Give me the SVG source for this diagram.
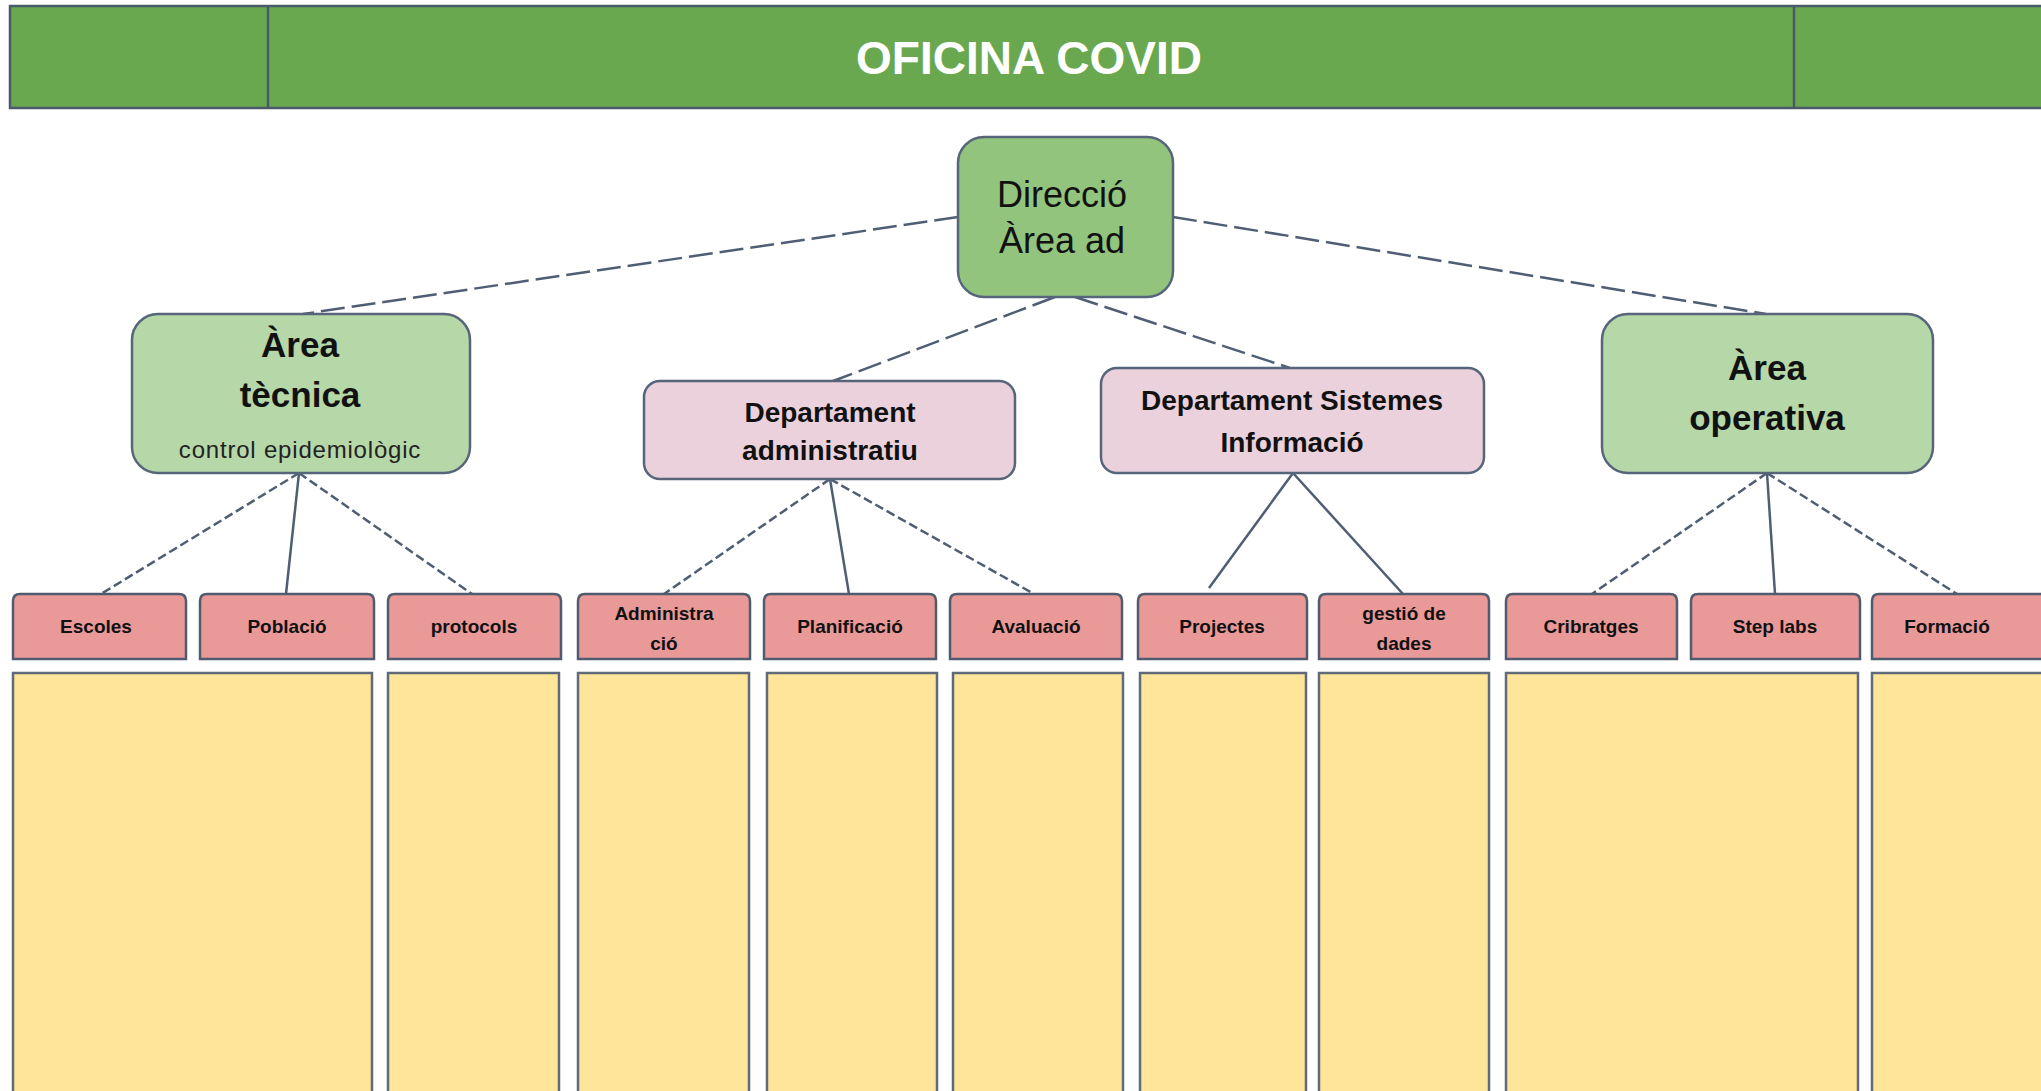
<svg xmlns="http://www.w3.org/2000/svg" width="2041" height="1091" viewBox="0 0 2041 1091">
<style>
.hdr{fill:#6AA84F;stroke:#4B5A6B;stroke-width:2.5}
.title{font-family:"Liberation Sans",Arial,sans-serif;font-weight:bold;font-size:46px;fill:#ffffff;text-anchor:middle}
.dir{fill:#93C47D;stroke:#56657A;stroke-width:2.5}
.area{fill:#B6D7A8;stroke:#56657A;stroke-width:2.5}
.dept{fill:#EAD1DC;stroke:#56657A;stroke-width:2.5}
.red{fill:#EA9999;stroke:#4F5B6E;stroke-width:2.5}
.yel{fill:#FFE599;stroke:#5F6B7A;stroke-width:2.5}
.t{font-family:"Liberation Sans",Arial,sans-serif;fill:#111;text-anchor:middle}
.big{font-size:35px;font-weight:bold}
.dirt{font-size:36px}
.sub{font-size:24px;fill:#222}
.dt{font-size:28px;font-weight:bold}
.rt{font-size:19px;font-weight:bold}
.c{stroke:#4F5E73;stroke-width:2.5;fill:none}
.d1{stroke-dasharray:24 7}
.d2{stroke-dasharray:9 4}
</style>

<g id="header">
<rect class="hdr" x="10" y="6" width="2040" height="102"/>
<line x1="268" y1="6" x2="268" y2="108" stroke="#4B5A6B" stroke-width="2.5"/>
<line x1="1794" y1="6" x2="1794" y2="108" stroke="#4B5A6B" stroke-width="2.5"/>
<text class="title" x="1029" y="74">OFICINA COVID</text>
</g>

<g id="connectors">
<line class="c d1" x1="958" y1="217" x2="303" y2="314"/>
<line class="c d1" x1="1173" y1="217" x2="1766" y2="314"/>
<line class="c d1" x1="1055" y1="297" x2="833" y2="381"/>
<line class="c d1" x1="1075" y1="297" x2="1290" y2="368"/>

<line class="c d2" x1="299" y1="473" x2="101" y2="594"/>
<line class="c" x1="299" y1="473" x2="286" y2="594"/>
<line class="c d2" x1="299" y1="473" x2="472" y2="594"/>

<line class="c d2" x1="830" y1="479" x2="664" y2="594"/>
<line class="c" x1="830" y1="479" x2="849" y2="594"/>
<line class="c d2" x1="830" y1="479" x2="1034" y2="594"/>

<line class="c" x1="1293" y1="473" x2="1209" y2="588"/>
<line class="c" x1="1293" y1="473" x2="1403" y2="594"/>

<line class="c d2" x1="1767" y1="473" x2="1592" y2="594"/>
<line class="c" x1="1767" y1="473" x2="1775" y2="594"/>
<line class="c d2" x1="1767" y1="473" x2="1957" y2="594"/>
</g>

<g id="direccio">
<rect class="dir" x="958" y="137" width="215" height="160" rx="26"/>
<text class="t dirt" x="1062" y="207">Direcció</text>
<text class="t dirt" x="1062" y="253">Àrea ad</text>
</g>

<g id="area-tecnica">
<rect class="area" x="132" y="314" width="338" height="159" rx="26"/>
<text class="t big" x="300" y="357">Àrea</text>
<text class="t big" x="300" y="407">tècnica</text>
<text class="t sub" x="300" y="458" letter-spacing="0.8">control epidemiològic</text>
</g>

<g id="dept-admin">
<rect class="dept" x="644" y="381" width="371" height="98" rx="16"/>
<text class="t dt" x="830" y="422">Departament</text>
<text class="t dt" x="830" y="460">administratiu</text>
</g>

<g id="dept-sistemes">
<rect class="dept" x="1101" y="368" width="383" height="105" rx="16"/>
<text class="t dt" x="1292" y="410">Departament Sistemes</text>
<text class="t dt" x="1292" y="452">Informació</text>
</g>

<g id="area-operativa">
<rect class="area" x="1602" y="314" width="331" height="159" rx="26"/>
<text class="t big" x="1767" y="380">Àrea</text>
<text class="t big" x="1767" y="430">operativa</text>
</g>

<g id="escoles">
<path class="red" d="M13 659 V601 Q13 594 20 594 H179 Q186 594 186 601 V659 Z"/>
<text class="t rt" x="96" y="633">Escoles</text>
</g>
<g id="poblacio">
<path class="red" d="M200 659 V601 Q200 594 207 594 H367 Q374 594 374 601 V659 Z"/>
<text class="t rt" x="287" y="633">Població</text>
</g>
<g id="protocols">
<path class="red" d="M388 659 V601 Q388 594 395 594 H554 Q561 594 561 601 V659 Z"/>
<text class="t rt" x="474" y="633">protocols</text>
</g>
<g id="administracio">
<path class="red" d="M578 659 V601 Q578 594 585 594 H743 Q750 594 750 601 V659 Z"/>
<text class="t rt" x="664" y="620">Administra</text>
<text class="t rt" x="664" y="650">ció</text>
</g>
<g id="planificacio">
<path class="red" d="M764 659 V601 Q764 594 771 594 H929 Q936 594 936 601 V659 Z"/>
<text class="t rt" x="850" y="633">Planificació</text>
</g>
<g id="avaluacio">
<path class="red" d="M950 659 V601 Q950 594 957 594 H1115 Q1122 594 1122 601 V659 Z"/>
<text class="t rt" x="1036" y="633">Avaluació</text>
</g>
<g id="projectes">
<path class="red" d="M1138 659 V601 Q1138 594 1145 594 H1300 Q1307 594 1307 601 V659 Z"/>
<text class="t rt" x="1222" y="633">Projectes</text>
</g>
<g id="gestio-dades">
<path class="red" d="M1319 659 V601 Q1319 594 1326 594 H1482 Q1489 594 1489 601 V659 Z"/>
<text class="t rt" x="1404" y="620">gestió de</text>
<text class="t rt" x="1404" y="650">dades</text>
</g>
<g id="cribratges">
<path class="red" d="M1506 659 V601 Q1506 594 1513 594 H1670 Q1677 594 1677 601 V659 Z"/>
<text class="t rt" x="1591" y="633">Cribratges</text>
</g>
<g id="step-labs">
<path class="red" d="M1691 659 V601 Q1691 594 1698 594 H1853 Q1860 594 1860 601 V659 Z"/>
<text class="t rt" x="1775" y="633">Step labs</text>
</g>
<g id="formacio">
<path class="red" d="M1872 659 V601 Q1872 594 1879 594 H2060 V659 Z"/>
<text class="t rt" x="1947" y="633">Formació</text>
</g>

<g id="columns">
<rect class="yel" x="13" y="673" width="359" height="430"/>
<rect class="yel" x="388" y="673" width="171" height="430"/>
<rect class="yel" x="578" y="673" width="171" height="430"/>
<rect class="yel" x="767" y="673" width="170" height="430"/>
<rect class="yel" x="953" y="673" width="170" height="430"/>
<rect class="yel" x="1140" y="673" width="166" height="430"/>
<rect class="yel" x="1319" y="673" width="170" height="430"/>
<rect class="yel" x="1506" y="673" width="352" height="430"/>
<rect class="yel" x="1872" y="673" width="190" height="430"/>
</g>
</svg>
